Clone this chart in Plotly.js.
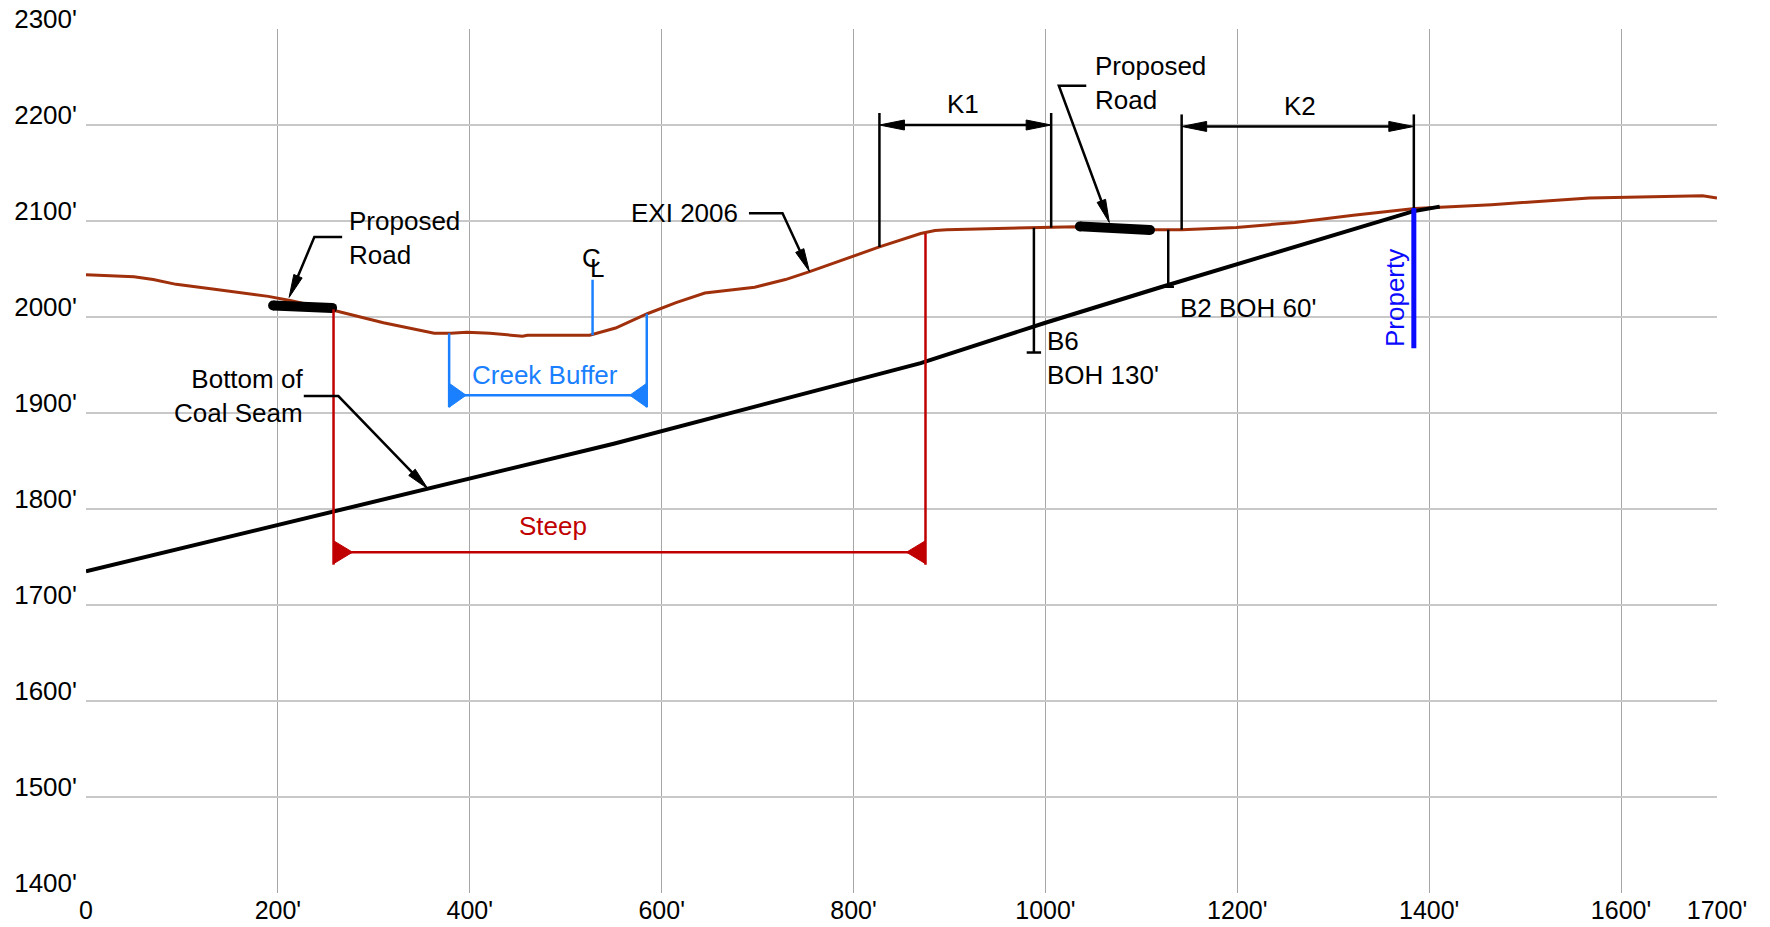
<!DOCTYPE html>
<html>
<head>
<meta charset="utf-8">
<script src="https://cdn.plot.ly/plotly-3.0.1.min.js"></script>
<style>html,body{margin:0;padding:0;background:#fff;} #chart{width:1770px;height:927px;}</style>
</head>
<body>
<div id="chart"></div>
<script>
// ---------------- Data (feet) ----------------
const groundX = [0,50,70,94,134,190,214,262,310,363,380,397,421,455,460,525,552,585,615,645,697,729,755,827,870,885,897,953,1006,1032,1070,1113,1142,1199,1260,1321,1385,1465,1567,1685,1700];
const groundY = [2044,2042,2039,2034,2029,2021.5,2017,2006,1994,1983,1983,1984,1983,1980,1981,1981,1988.5,2003.4,2015,2025,2031,2039,2047.5,2073,2087,2090,2091,2092,2093,2094,2092.5,2091,2091,2093.3,2098.5,2106,2113,2117,2124,2126.4,2124];

const seamX = [0,200,400,550,870,910,1000,1120,1200,1383,1411];
const seamY = [1735,1783,1831,1868,1952,1965,1994,2031,2055,2110,2115];

const roadLeftX = [195, 256.5];
const roadLeftY = [2012, 2009.5];
const roadRightX = [1036, 1109];
const roadRightY = [2094.4, 2090.6];

const xTickVals = [0,200,400,600,800,1000,1200,1400,1600,1700];
const xTickText = ["0","200'","400'","600'","800'","1000'","1200'","1400'","1600'","1700'"];
const yTickVals = [1400,1500,1600,1700,1800,1900,2000,2100,2200,2300];
const yTickText = ["1400'","1500'","1600'","1700'","1800'","1900'","2000'","2100'","2200'","2300'"];

// dimension / marker values
const steepX = [258, 875];
const steepTopY = [2008, 2087];
const steepLineY = 1755;
const steepBottomY = 1742;

const creekX = [378.5, 584.5];
const creekTopY = [1983, 2003.4];
const creekLineY = 1918.5;
const creekBottomY = 1906;

const k1X = [827, 1006];
const k1BaseY = [2073, 2093];
const k1TopY = 2212.5;
const k1LineY = 2200;

const k2X = [1142, 1384];
const k2BaseY = [2091, 2112];
const k2TopY = 2211;
const k2LineY = 2198.5;

const b6X = 988,  b6Y = [2093, 1963];
const b2X = 1128, b2Y = [2091, 2031.5];
const propertyX = 1384, propertyY = [2113.5, 1967.5];
const centerX = 528, centerY = [1981, 2038.8];

// leaders: [text end, elbow, arrow tip]
const leaderRoadLX = [267, 238, 211.7],   leaderRoadLY = [2083.3, 2083.3, 2020.4];
const leaderSeamX  = [227, 263, 356.4],   leaderSeamY  = [1917.6, 1917.6, 1821];
const leaderExiX   = [691, 726, 754],     leaderExiY   = [2108, 2108, 2047.5];
const leaderRoadRX = [1042.6, 1014, 1066.6], leaderRoadRY = [2241, 2241, 2098.5];

// ---------------- geometry helpers ----------------
const X0 = 0, X1 = 1700, Y0 = 1400, Y1 = 2300;
const ML = 86, MR = 53, MT = 29, MB = 34, W = 1770, H = 927;
const kx = (W - ML - MR) / (X1 - X0);
const ky = (H - MT - MB) / (Y1 - Y0);

const BROWN = '#a0300c', RED = '#c00000', CBLUE = '#1a80ff', PBLUE = '#0a0aff', BLACK = '#000';

function head(tipX, tipY, fromX, fromY, lenPx, halfPx) {
  let dx = (tipX - fromX) * kx, dy = (tipY - fromY) * ky;
  const L = Math.hypot(dx, dy); dx /= L; dy /= L;
  const bx = tipX * kx - dx * lenPx, by = tipY * ky - dy * lenPx;
  const px = -dy, py = dx;
  return {
    x: [tipX, (bx + px * halfPx) / kx, (bx - px * halfPx) / kx, tipX],
    y: [tipY, (by + py * halfPx) / ky, (by - py * halfPx) / ky, tipY],
    baseX: bx / kx + dx * 2 / kx, baseY: by / ky + dy * 2 / ky
  };
}
function inwardTri(x0, y, dir, wPx, hPx) {
  return { x: [x0, x0 + dir * wPx / kx, x0, x0], y: [y - hPx / ky, y, y + hPx / ky, y - hPx / ky] };
}

const traces = [];
function line(x, y, color, width, extra) {
  traces.push(Object.assign({ type: 'scatter', mode: 'lines', x: x, y: y,
    line: { color: color, width: width }, hoverinfo: 'skip', cliponaxis: false }, extra || {}));
}
function fillTri(t, color) {
  traces.push({ type: 'scatter', mode: 'lines', x: t.x, y: t.y, fill: 'toself', fillcolor: color,
    line: { color: color, width: 1 }, hoverinfo: 'skip', cliponaxis: false });
}

// ground & seam
line(groundX, groundY, BROWN, 3);
line(seamX, seamY, BLACK, 4);

// roads (thick with round ends)
traces.push({ type: 'scatter', mode: 'lines+markers', x: roadLeftX, y: roadLeftY,
  line: { color: BLACK, width: 10 }, marker: { color: BLACK, size: 10, symbol: 'circle' }, hoverinfo: 'skip' });
traces.push({ type: 'scatter', mode: 'lines+markers', x: roadRightX, y: roadRightY,
  line: { color: BLACK, width: 10 }, marker: { color: BLACK, size: 10, symbol: 'circle' }, hoverinfo: 'skip' });

// Steep dimension
line([steepX[0], steepX[0]], [steepTopY[0], steepBottomY], RED, 2.5);
line([steepX[1], steepX[1]], [steepTopY[1], steepBottomY], RED, 2.5);
line(steepX, [steepLineY, steepLineY], RED, 2.5);
fillTri(inwardTri(steepX[0], steepLineY, 1, 19, 11.5), RED);
fillTri(inwardTri(steepX[1], steepLineY, -1, 19, 11.5), RED);

// Creek buffer dimension
line([creekX[0], creekX[0]], [creekTopY[0], creekBottomY], CBLUE, 2.5);
line([creekX[1], creekX[1]], [creekTopY[1], creekBottomY], CBLUE, 2.5);
line(creekX, [creekLineY, creekLineY], CBLUE, 2.5);
fillTri(inwardTri(creekX[0], creekLineY, 1, 17, 12), CBLUE);
fillTri(inwardTri(creekX[1], creekLineY, -1, 17, 12), CBLUE);

// centre line marker
line([centerX, centerX], centerY, CBLUE, 2.5);

// K1 / K2 dimensions
[[k1X, k1BaseY, k1TopY, k1LineY], [k2X, k2BaseY, k2TopY, k2LineY]].forEach(function (d) {
  const xs = d[0], base = d[1], top = d[2], ly = d[3];
  line([xs[0], xs[0]], [base[0], top], BLACK, 2.5);
  line([xs[1], xs[1]], [base[1], top], BLACK, 2.5);
  const hL = head(xs[0], ly, xs[1], ly, 25, 5);
  const hR = head(xs[1], ly, xs[0], ly, 25, 5);
  line([hL.baseX, hR.baseX], [ly, ly], BLACK, 2.5);
  fillTri(hL, BLACK); fillTri(hR, BLACK);
});

// borings
line([b6X, b6X], b6Y, BLACK, 2.5);
line([b6X - 7.5, b6X + 7.5], [b6Y[1], b6Y[1]], BLACK, 2.5);
line([b2X, b2X], b2Y, BLACK, 2.5);
line([b2X - 6, b2X + 6], [b2Y[1], b2Y[1]], BLACK, 2.5);

// property line
line([propertyX, propertyX], propertyY, PBLUE, 5);

// leaders with arrowheads
[[leaderRoadLX, leaderRoadLY], [leaderSeamX, leaderSeamY], [leaderExiX, leaderExiY], [leaderRoadRX, leaderRoadRY]].forEach(function (l) {
  const xs = l[0], ys = l[1];
  const h = head(xs[2], ys[2], xs[1], ys[1], 23, 4.5);
  line([xs[0], xs[1], h.baseX], [ys[0], ys[1], h.baseY], BLACK, 2.5);
  fillTri(h, BLACK);
});

// ---------------- text ----------------
const FONT = 'Liberation Sans, Arial, Helvetica, sans-serif';
function txt(x, y, text, opts) {
  return Object.assign({ xref: 'x', yref: 'y', x: x, y: y, text: text, showarrow: false,
    font: { family: FONT, size: 26, color: BLACK }, xanchor: 'left', yanchor: 'middle', align: 'left' }, opts || {});
}
const annotations = [
  txt(271.6, 2082.3, 'Proposed<br>Road'),
  txt(1050, 2243.7, 'Proposed<br>Road'),
  txt(228, 1917.3, 'Bottom of<br>Coal Seam', { xanchor: 'right', align: 'right' }),
  txt(681.6, 2108, 'EXI 2006', { xanchor: 'right' }),
  txt(478.7, 1939.8, 'Creek Buffer', { xanchor: 'center', font: { family: FONT, size: 26, color: CBLUE } }),
  txt(486.6, 1782.6, 'Steep', { xanchor: 'center', font: { family: FONT, size: 26, color: RED } }),
  txt(914.4, 2222.4, 'K1', { xanchor: 'center' }),
  txt(1265, 2220, 'K2', { xanchor: 'center' }),
  txt(999.4, 1957.8, 'B6<br>BOH 130\''),
  txt(1138, 2009.5, 'B2 BOH 60\''),
  txt(1364.6, 2020, 'Property', { xanchor: 'center', textangle: -90, font: { family: FONT, size: 26, color: PBLUE } }),
  txt(526.6, 2061, 'C', { xanchor: 'center' }),
  txt(532.8, 2051.5, 'L', { xanchor: 'center' })
];

const layout = {
  width: W, height: H,
  margin: { l: ML, r: MR, t: MT, b: MB, pad: 0 },
  paper_bgcolor: '#ffffff', plot_bgcolor: '#ffffff',
  showlegend: false,
  font: { family: FONT, size: 26, color: BLACK },
  xaxis: { range: [X0, X1], tickmode: 'array', tickvals: xTickVals, ticktext: xTickText,
    showgrid: true, gridcolor: '#a6a6a6', gridwidth: 1, zeroline: false, showline: false,
    ticks: '', ticklabelstandoff: 0, tickfont: { family: FONT, size: 25, color: BLACK }, fixedrange: true },
  yaxis: { range: [Y0, Y1], tickmode: 'array', tickvals: yTickVals, ticktext: yTickText,
    showgrid: true, gridcolor: '#c8c8c8', gridwidth: 2.5, zeroline: false, showline: false,
    ticks: '', ticklabelshift: -10, ticklabelstandoff: 8, tickfont: { family: FONT, size: 26, color: BLACK }, fixedrange: true },
  annotations: annotations
};

Plotly.newPlot('chart', traces, layout, { staticPlot: true, displayModeBar: false });
</script>
</body>
</html>
